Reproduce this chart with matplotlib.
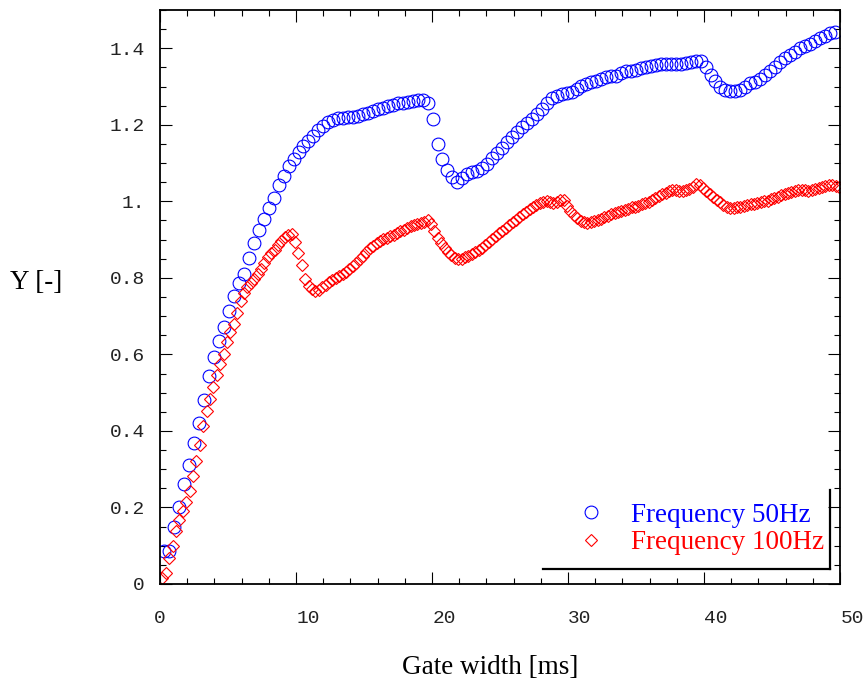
import numpy as np
import matplotlib
matplotlib.use("Agg")
import matplotlib.pyplot as plt
import matplotlib.transforms as mtransforms
from matplotlib.lines import Line2D

# ---------------- data ----------------
series_names = ["Frequency 50Hz", "Frequency 100Hz"]

# 50 Hz: uniform gate-width sampling (start, step)
gate_50_start, gate_50_step = 0.33, 0.365
y_50 = [
    0.085, 0.086, 0.150, 0.200, 0.262, 0.310, 0.368, 0.420, 0.482, 0.543,
    0.592, 0.636, 0.672, 0.714, 0.752, 0.787, 0.810, 0.852, 0.890, 0.925,
    0.955, 0.982, 1.010, 1.043, 1.067, 1.093, 1.110, 1.128, 1.145, 1.158,
    1.172, 1.186, 1.198, 1.208, 1.213, 1.218, 1.219, 1.220, 1.221, 1.224,
    1.228, 1.231, 1.235, 1.241, 1.245, 1.249, 1.252, 1.256, 1.258, 1.260,
    1.263, 1.266, 1.265, 1.258, 1.215, 1.150, 1.110, 1.082, 1.064, 1.050,
    1.060, 1.071, 1.076, 1.080, 1.088, 1.098, 1.112, 1.127, 1.140, 1.156,
    1.169, 1.181, 1.195, 1.206, 1.216, 1.228, 1.242, 1.257, 1.269, 1.274,
    1.280, 1.282, 1.285, 1.293, 1.302, 1.307, 1.311, 1.315, 1.320, 1.324,
    1.327, 1.328, 1.335, 1.340, 1.341, 1.344, 1.348, 1.352, 1.354, 1.357,
    1.358, 1.358, 1.358, 1.358, 1.360, 1.362, 1.365, 1.368, 1.366, 1.352,
    1.331, 1.314, 1.298, 1.290, 1.288, 1.288, 1.292, 1.300, 1.308, 1.313,
    1.320, 1.329, 1.340, 1.350, 1.364, 1.374, 1.383, 1.391, 1.400, 1.406,
    1.412, 1.420, 1.428, 1.433, 1.439, 1.443,
]

# 100 Hz: uniform gate-width sampling (start, step)
gate_100_start, gate_100_step = 0.17, 0.25
y_100 = [
    0.015, 0.030, 0.068, 0.100, 0.138, 0.167, 0.191, 0.215, 0.244, 0.281,
    0.321, 0.362, 0.412, 0.452, 0.483, 0.515, 0.547, 0.575, 0.602, 0.633,
    0.658, 0.680, 0.707, 0.740, 0.760, 0.776, 0.787, 0.798, 0.810, 0.824,
    0.838, 0.854, 0.864, 0.873, 0.885, 0.897, 0.906, 0.912, 0.915, 0.895,
    0.865, 0.833, 0.797, 0.779, 0.771, 0.765, 0.768, 0.776, 0.782, 0.789,
    0.795, 0.800, 0.804, 0.810, 0.815, 0.822, 0.831, 0.840, 0.849, 0.858,
    0.868, 0.877, 0.884, 0.890, 0.896, 0.902, 0.905, 0.909, 0.913, 0.917,
    0.922, 0.926, 0.931, 0.935, 0.938, 0.941, 0.943, 0.946, 0.950, 0.940,
    0.923, 0.905, 0.890, 0.877, 0.867, 0.860, 0.853, 0.850, 0.850, 0.854,
    0.858, 0.863, 0.867, 0.873, 0.879, 0.885, 0.893, 0.901, 0.909, 0.916,
    0.922, 0.930, 0.937, 0.945, 0.952, 0.960, 0.967, 0.973, 0.979, 0.985,
    0.991, 0.995, 0.998, 1.000, 0.998, 0.996, 0.999, 1.003, 1.004, 0.988,
    0.975, 0.965, 0.956, 0.949, 0.946, 0.944, 0.946, 0.949, 0.952, 0.955,
    0.959, 0.962, 0.966, 0.969, 0.972, 0.975, 0.978, 0.981, 0.984, 0.986,
    0.989, 0.992, 0.995, 0.999, 1.004, 1.010, 1.015, 1.019, 1.023, 1.026,
    1.029, 1.029, 1.027, 1.027, 1.030, 1.033, 1.038, 1.044, 1.042, 1.035,
    1.026, 1.018, 1.011, 1.003, 0.997, 0.990, 0.985, 0.983, 0.982, 0.984,
    0.986, 0.988, 0.990, 0.992, 0.994, 0.996, 0.998, 1.000, 1.002, 1.005,
    1.008, 1.012, 1.016, 1.019, 1.022, 1.025, 1.027, 1.029, 1.030, 1.029,
    1.028, 1.029, 1.032, 1.035, 1.038, 1.040, 1.042, 1.043, 1.040, 1.037,
]

x_50 = gate_50_start + gate_50_step * np.arange(len(y_50))
x_100 = gate_100_start + gate_100_step * np.arange(len(y_100))

x_ticks = [0, 10, 20, 30, 40, 50]
x_ticklabels = ["0", "10", "20", "30", "40", "50"]
y_ticks = [0, 0.2, 0.4, 0.6, 0.8, 1.0, 1.2, 1.4]
y_ticklabels = ["0", "0.2", "0.4", "0.6", "0.8", "1.", "1.2", "1.4"]

x_label = "Gate width [ms]"
y_label = "Y [-]"

# ---------------- figure ----------------
W, H = 867, 686
fig = plt.figure(figsize=(W / 100, H / 100), dpi=100)
ax = fig.add_axes([160 / W, 102 / H, 680 / W, 574 / H])

serif = ["Liberation Serif", "DejaVu Serif"]
mono = ["Liberation Mono", "DejaVu Sans Mono"]

ax.plot(x_50, y_50, linestyle="none", marker="o", markersize=9.2,
        markerfacecolor="none", markeredgecolor="#0000ff",
        markeredgewidth=0.8, label=series_names[0])
ax.plot(x_100, y_100, linestyle="none", marker="D", markersize=6.2,
        markerfacecolor="none", markeredgecolor="#ff0000",
        markeredgewidth=0.8, label=series_names[1])

ax.set_xlim(0, 50)
ax.set_ylim(0, 1.5)

ax.set_xticks(x_ticks)
ax.set_xticklabels(x_ticklabels)
ax.set_yticks(y_ticks)
ax.set_yticklabels(y_ticklabels)
ax.set_xticks(np.arange(0, 51, 2), minor=True)
ax.set_yticks(np.arange(0, 1.51, 0.05), minor=True)

for s in ax.spines.values():
    s.set_linewidth(1.3)
    s.set_color("black")

ax.tick_params(which="both", direction="in", top=True, right=True,
               color="black", width=0.8)
ax.tick_params(which="major", length=8.5)
ax.tick_params(which="minor", length=4.5)
ax.tick_params(axis="y", which="major", pad=11)
ax.tick_params(axis="x", which="major", pad=19)

for lab in ax.get_xticklabels() + ax.get_yticklabels():
    lab.set_fontfamily(mono)
    lab.set_fontsize(14)
    lab.set_color("#222222")

# shift multi-digit x tick labels to the right like the reference
for tick, txt in zip(ax.xaxis.get_major_ticks(), x_ticklabels):
    if len(txt) > 1:
        tick.label1.set_transform(
            tick.label1.get_transform()
            + mtransforms.ScaledTranslation(12 / 100, 0, fig.dpi_scale_trans))

fig.text(10 / W, 1 - 283 / H, y_label, ha="left", va="center",
         fontsize=19.5, family=serif, color="black")
fig.text(490 / W, 1 - 668 / H, x_label, ha="center", va="center",
         fontsize=19.5, family=serif, color="black")

leg = ax.legend(loc="center left",
                bbox_to_anchor=(577 / W, 1 - 529 / H),
                bbox_transform=fig.transFigure,
                frameon=False, borderpad=0, borderaxespad=0,
                handlelength=1.0, handletextpad=1.0, labelspacing=0.11,
                prop={"family": serif, "size": 19.5})
for txt, col in zip(leg.get_texts(), ["#0000ff", "#ff0000"]):
    txt.set_color(col)

# legend shadow-like frame (bottom and right edges)
fig.add_artist(Line2D([543 / W, 830 / W], [1 - 569 / H, 1 - 569 / H],
                      transform=fig.transFigure, color="black", lw=1.6))
fig.add_artist(Line2D([830 / W, 830 / W], [1 - 490 / H, 1 - 569 / H],
                      transform=fig.transFigure, color="black", lw=1.6))

fig.savefig("out.png", dpi=100)
